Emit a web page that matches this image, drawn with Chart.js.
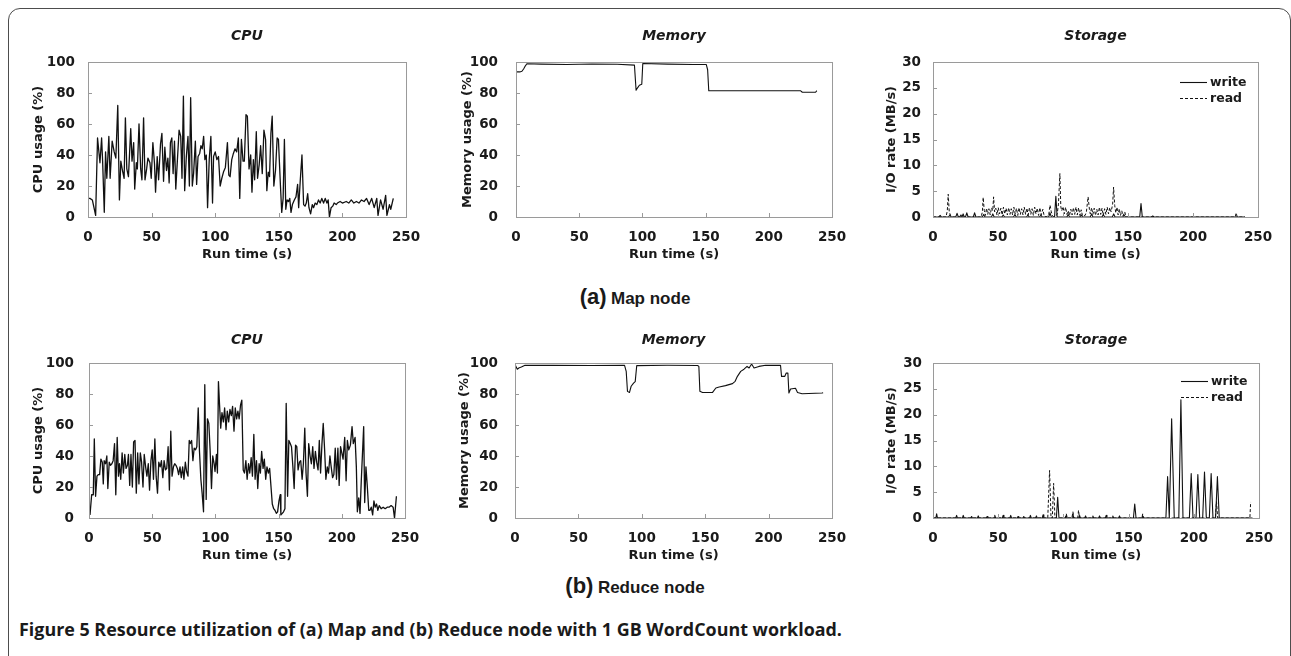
<!DOCTYPE html>
<html>
<head>
<meta charset="utf-8">
<script src="https://cdn.jsdelivr.net/npm/chart.js@4.4.1/dist/chart.umd.min.js"></script>
<style>
html, body { margin: 0; padding: 0; background: #fff; }
#page { position: relative; width: 1291px; height: 656px; overflow: hidden; }
#frame { position: absolute; left: 8px; top: 8px; width: 1283px; height: 720px; border: 1px solid #4d4d4d; border-radius: 12px; box-sizing: border-box; }
canvas { position: absolute; }
.sub { position: absolute; left: 0; width: 1270px; text-align: center; font-family: "Liberation Sans", Arial, sans-serif; font-weight: bold; color: #1a1a1a; white-space: nowrap; line-height: 24px; }
.sub .tag { font-size: 22px; }
.sub .name { font-size: 17px; }
#caption { position: absolute; left: 19px; top: 618px; font-family: "Open Sans", sans-serif; font-weight: 700; font-size: 17.9px; line-height: 22px; color: #1a1a1a; white-space: nowrap; }
</style>
</head>
<body>
<div id="page">
  <div id="frame"></div>
  <canvas id="mapCpu"></canvas>
  <canvas id="mapMem"></canvas>
  <canvas id="mapIO"></canvas>
  <canvas id="redCpu"></canvas>
  <canvas id="redMem"></canvas>
  <canvas id="redIO"></canvas>
  <div class="sub" style="top:285px"><span class="tag">(a)</span> <span class="name">Map node</span></div>
  <div class="sub" style="top:574px"><span class="tag">(b)</span> <span class="name">Reduce node</span></div>
  <div id="caption">Figure 5 Resource utilization of (a) Map and (b) Reduce node with 1 GB WordCount workload.</div>
</div>
<script>
// ---- data (run time in s) ----

// (a) map node, CPU usage (%)
const mapCpuTime = [0,1.5,3.4,4.2,6,7.5,9.4,10.7,11.5,12.8,
  13.8,14.8,16.4,17.4,19,20.6,21.9,23.4,24.7,25.8,
  27.1,28.4,29.4,30.5,31.8,33.6,34.6,35.9,36.7,38,
  38.8,40.1,41.4,42.4,43.7,44.8,46.1,47.1,48.7,49.7,
  51,52.3,53.1,54.4,55.5,57,58.1,59.4,60.4,61.7,
  62.8,63.8,64.8,65.9,66.9,68,69,70.3,71.6,72.9,
  73.9,75,76,77.3,78.6,79.7,80.7,82,83,84.4,
  85.4,86.5,87.8,88.8,89.8,90.9,91.9,93,94,95.3,
  96.6,97.9,98.7,100,101.3,102.6,103.9,105.2,106.5,108,
  109.6,110.7,111.7,113,114.3,115.6,116.9,118.2,119.3,120.6,
  121.9,122.9,124.2,125.3,126.6,127.9,128.9,130,131,132.3,
  133.3,134.6,135.7,137,138.3,139.6,140.6,141.7,142.7,143.8,
  144.8,146.1,147.4,148.7,149.7,151.3,152.3,153.4,154.4,155.5,
  156.5,157.6,158.6,159.6,160.7,162.2,163.5,164.8,165.6,166.9,
  168.2,169.5,170.6,171.6,172.7,173.7,175,176.3,177.3,178.6,
  179.9,181.2,182.5,183.8,185.2,186.5,187.8,188.8,189.8,191.1,
  192.4,193.5,195.1,196.1,198.2,200,203,205,207,209,
  211,213,215,217,219,221,223,225,227,228,
  230,232,234,235,237,238,240];
const mapCpuValue = [12,12,11,8,1,51,35,51,36,3,
  42,25,52,25,49,42,38,72,11,36,
  30,25,64,31,26,57,36,48,18,35,
  31,60,31,24,64,24,31,38,35,25,
  48,34,16,39,24,47,54,23,45,30,
  38,22,48,51,28,49,18,37,56,52,
  25,78,17,39,52,20,77,20,28,49,
  21,39,41,46,44,52,37,40,6,37,
  52,9,39,42,37,39,20,25,29,32,
  48,27,26,37,41,44,42,51,12,50,
  36,36,66,65,31,40,16,37,24,55,
  25,34,46,28,56,50,17,29,26,54,
  65,20,30,51,50,20,3,12,50,5,
  11,10,12,3,8,11,13,21,6,24,
  40,8,7,9,15,6,2,8,6,9,
  8,11,9,12,9,12,9,11,0,6,
  7,9,8,9,10,9,10,9,11,9,
  10,9,11,10,12,8,12,6,12,1,
  11,5,14,1,8,5,12];

// (a) map node, memory usage (%)
const mapMemTime = [0,3,4.7,6,7,8.6,20,40,60,80,93.7,95,96.3,97.6,99.5,100.3,120,140,150.5,151.6,152.5,180,200,225,226.5,237,238];
const mapMemValue = [93.6,93.6,94,95.5,97,98.9,98.6,98.4,98.7,98.5,98,81.8,83.5,85,85.6,99,98.6,98.4,98.4,95,81.5,81.5,81.5,81.5,80.5,80.5,81.5];

// (a) map node, I/O rate (MB/s)
const mapWriteTime = [0,4.5,5.5,6.5,12,13,14,17.5,18.5,19.5,
  20.5,21.5,22.3,23.2,24,25,26,27,31,32,
  33,38,39,40,45,46,47,53,54,55,
  62,63,64,72,73,74,82,83,84,89,
  90,91,93.5,94.5,95.5,103,104,105,113,114,
  115,121,122,123,130,131,132,138,139,140,
  146,147,148,159,160,161,168,169,170,240];
const mapWriteValue = [0,0,0.3,0,0,0.4,0,0,0.7,0,
  0,0.4,0,0.6,0,0,0.8,0,0,0.8,
  0,0,0.5,0,0,0.6,0,0,0.4,0,
  0,0.5,0,0,0.4,0,0,0.4,0,0,
  0.8,0,0,4.0,0,0,0.5,0,0,0.4,
  0,0,0.6,0,0,0.5,0,0,0.6,0,
  0,0.4,0,0,2.6,0,0,0.2,0,0];
const mapReadTime = [0,10,11,11.7,12.5,13.5,14.5,37,38,38.6,
  39.4,40.3,41.2,42.1,43,44,45,46,46.6,47.4,
  48.3,49.2,50.2,51.2,52.2,53.2,54.2,55.2,56.2,57.2,
  58.2,59.2,60.2,61.2,62.2,63.2,64.2,65.2,66.2,67.2,
  68.2,69.2,70.2,71.2,72.2,73.2,74.2,75.2,76.2,77.2,
  78.2,79.2,80.2,81.2,82.2,83.2,84.5,85.5,87,89,
  90,91,92,93,95.5,96.5,97.6,98.3,99,100,
  101,102,103,104,105,106,107,108,109,110,
  111,112,113,114,115,117,118,119.3,120.3,121,
  122,123,124,125,126,127,128,129,130,131,
  132,133,134,135,136,137,138.2,138.9,139.8,140.6,
  141.5,142.4,143.3,144.2,145.2,146.2,147.5,148.5,232.5,233.2,
  234,240];
const mapReadValue = [0,0,1.2,4.4,1,0.3,0,0,1,3.8,
  1.3,0.3,1.7,0.5,1.6,0.4,1.8,1.2,3.9,1,
  1.7,0.4,1.8,0.6,1.7,0.4,1.9,0.6,1.7,0.4,
  1.8,0.5,1.6,0.4,1.9,0.6,1.7,0.3,1.8,0.5,
  1.6,0.4,1.9,0.5,1.7,0.4,1.8,0.5,1.6,0.3,
  1.9,0.6,1.7,0.3,1.8,0.4,1.5,0.2,0,0.4,
  2.3,1,0.2,0,0.5,2.5,8.4,2,1.2,2,
  0.6,1.9,0.5,1.2,0.3,1.5,0.4,1.8,0.5,1.9,
  0.4,1.8,0.3,1.4,0.2,0.3,1,3.9,1.5,0.6,
  1.8,0.5,1.7,0.3,1.5,0.4,1.9,0.5,1.7,0.3,
  1.6,0.5,1.9,0.6,1.8,1,2.5,5.8,2.2,0.8,
  1.9,0.4,1.6,0.3,1.2,0.2,1,0,0,0.8,
  0,0];

// (b) reduce node, CPU usage (%)
const redCpuTime = [0.8,2.1,3.4,4.2,5.2,6.3,7.3,8.4,9.4,10.5,
  11.3,12,13.1,14.1,14.9,16,17,18.1,19.1,20.2,
  21.2,22.3,23.3,24.1,25.1,26.2,27.2,28.3,29.3,30.4,
  31.2,32.2,33.2,34.3,35.3,36.4,37.4,38.5,39.5,40.6,
  41.6,42.7,43.7,44.8,45.8,46.9,47.9,49,50,51,
  52.1,53.1,54.2,55.2,56.3,57.3,58.4,59.4,60.5,61.5,
  62.6,63.6,64.7,65.7,66.8,67.8,68.8,69.9,70.9,72,
  73,74.1,75.1,76.2,77.2,78.3,79.3,80.1,81.2,82.2,
  83.2,84.3,85.3,86.4,87.4,88.5,89.5,90.6,91.6,92.7,
  93.7,94.8,95.8,96.9,97.9,99,99.7,100.8,101.6,102.4,
  103.1,104.2,105.2,106.3,107.3,108.4,109.4,110.5,111.5,112.6,
  113.6,114.7,115.7,116.8,117.8,118.8,119.9,120.9,122,123,
  124.1,125.1,126.2,127.2,128.3,129.3,130.4,131.4,132.5,133.5,
  134.6,135.6,136.6,137.7,138.7,139.8,140.8,141.9,142.9,144,
  145,146.1,147.1,148.2,149.2,150.3,151.3,151.8,152.9,153.9,
  155,156,157.1,158.1,159.2,160.2,161.3,162.3,163.4,164.4,
  165.4,166.5,167.5,168.6,169.6,170.7,171.7,172.8,173.8,174.9,
  175.9,177,178,179.1,180.1,181.2,182.2,183.2,184.3,185.3,
  186.4,187.4,188.5,189.5,190.6,191.6,192.7,193.7,194.8,195.8,
  196.9,197.9,199,201,202.3,203.4,204.4,205.5,206.8,208.1,
  209.1,210.5,211.5,212.3,213.4,214.4,215.4,217.3,218.1,219.1,
  220.2,221.3,222.3,223.3,224.4,225.4,226.4,227.5,228.5,229.6,
  231.1,232.7,234.3,235.9,237.4,239,240.6,241.7,243.2];
const redCpuValue = [2,15,15,51,14,27,28,28,38,36,
  22,37,35,40,19,36,34,35,37,48,
  15,52,27,35,25,42,29,41,32,34,
  41,21,41,20,49,50,16,42,22,42,
  36,20,41,33,27,35,18,37,44,25,
  51,27,16,36,33,37,26,37,31,32,
  46,18,56,27,33,35,34,32,28,33,
  26,33,25,36,30,27,50,48,50,37,
  45,44,46,71,43,25,16,4,86,12,
  64,61,44,19,40,35,30,41,29,88,
  76,58,68,62,71,57,69,62,70,66,
  72,56,71,64,69,64,73,76,31,29,
  37,25,35,29,39,27,54,25,37,19,
  35,29,43,32,38,25,33,29,32,20,
  9,6,5,3,4,11,15,2,3,4,
  6,74,14,50,48,46,33,19,47,46,
  31,36,37,25,35,58,29,14,48,40,
  35,46,32,43,36,31,50,29,48,61,
  44,25,33,29,40,33,26,28,45,25,
  45,21,46,38,52,24,50,44,47,59,
  48,52,33,4,13,3,24,59,10,33,
  20,5,5,7,2,11,7,9,5,8,
  6,7,6,7,7,8,7,0,14];

// (b) reduce node, memory usage (%)
const redMemTime = [0,1.8,3,5,7.9,30,60,86.4,87.7,88.7,
  90.3,91.6,93.5,94.8,96,120,144,145,145.8,147.9,
  155.8,158.4,161,166,171.5,173.6,175.4,178,180.6,183,
  184.6,186.6,188.5,192.4,197.6,209.4,210.2,212.8,213.9,215.2,
  216,217.3,221.2,222.8,226.4,242.1,243];
const redMemValue = [99,96,96.8,97.4,98.5,98.5,98.4,98.5,94.6,81.7,
  81,85,87,88,98.3,98.5,98.4,97.8,81.7,81,
  81,83.9,84.5,85.4,86.7,88.2,91.4,94.6,96,97.8,
  96.8,99.4,96.8,97.8,98.5,98.5,91.4,91.4,93.5,93.5,
  80.6,83.2,83.7,81,80.2,80.6,80.8];

// (b) reduce node, I/O rate (MB/s)
const redWriteTime = [0,2.2,2.8,3.4,17.5,18.1,18.7,22.6,23.2,23.8,
  29,29.6,30.2,34.1,34.7,35.3,40.9,41.5,42.1,46.8,
  47.4,48,53.2,53.8,54.4,59,59.6,60.2,64.6,65.2,
  65.8,69,69.6,70.2,74.1,74.7,75.3,78.7,79.3,79.9,
  83.8,84.4,85,94.6,95.6,96.6,101.6,102.2,102.8,106.7,
  107.3,107.9,111.8,112.4,113,116.4,117,117.6,122,122.6,
  123.2,127.1,127.7,128.3,132.2,132.8,133.4,137.3,137.9,138.5,
  142.4,143,143.6,153.7,154.7,155.7,160.2,160.8,161.4,178.6,
  179.9,181.2,183,185,188.5,190.1,191.7,196.6,198,199.4,
  201.7,203.1,204.5,206.8,208.2,209.6,211.9,213.3,214.7,216.7,
  218.1,219.5,245];
const redWriteValue = [0,0,0.8,0,0,0.5,0,0,0.5,0,
  0,0.3,0,0,0.4,0,0,0.3,0,0,
  0.5,0,0,0.5,0,0,0.5,0,0,0.3,
  0,0,0.3,0,0,0.5,0,0,0.4,0,
  0,0.6,0,0,4.0,0,0,0.5,0,0,
  0.8,0,0,0.5,0,0,0.4,0,0,0.4,
  0,0,0.4,0,0,0.5,0,0,0.4,0,
  0,0.4,0,0,2.7,0,0,0.4,0,0,
  8.0,0,19.2,0,0,22.9,0,0,8.6,0,
  0,8.4,0,0,8.9,0,0,8.6,0,0,
  8.0,0,0];
const redReadTime = [0,88,89.4,90.5,91.5,92.5,93.5,101.5,102.2,103,
  106.5,107.3,108,111,111.6,112.3,160.2,160.8,161.4,216.5,
  217.4,218.3,243,243.6];
const redReadValue = [0,0,9.2,0,0,6.7,0,0,0.8,0,
  0,1.2,0,0,1.5,0,0,0.8,0,0,
  3.2,0,0,3.1];

const panelTitles = ['CPU', 'Memory', 'Storage'];
const yTitles = ['CPU usage (%)', 'Memory usage (%)', 'I/O rate (MB/s)'];
const xTitle = 'Run time (s)';
const seriesNames = ['write', 'read'];

// ---- drawing ----
const FONT = '"DejaVu Sans", sans-serif';
const INK = '#1a1a1a';
const TICK_SIZE = 13.5;
const AXIS_TITLE_SIZE = 13;
const PANEL_TITLE_SIZE = 14;

function points(ts, vs) {
  return ts.map((t, i) => ({x: t, y: vs[i]}));
}

// box around the plot area, short tick marks pointing inwards
const framePlugin = {
  id: 'frame',
  afterDatasetsDraw(chart) {
    const {ctx, chartArea: a, scales: {x, y}} = chart;
    ctx.save();
    ctx.strokeStyle = '#9a9a9a';
    ctx.lineWidth = 1;
    ctx.strokeRect(a.left + 0.5, a.top + 0.5, a.right - a.left, a.bottom - a.top);
    ctx.beginPath();
    x.ticks.forEach(t => {
      const px = Math.round(x.getPixelForValue(t.value)) + 0.5;
      ctx.moveTo(px, a.bottom); ctx.lineTo(px, a.bottom - 4);
    });
    y.ticks.forEach(t => {
      const py = Math.round(y.getPixelForValue(t.value)) + 0.5;
      ctx.moveTo(a.left, py); ctx.lineTo(a.left + 4, py);
    });
    ctx.stroke();
    ctx.restore();
  }
};

// small legend in the upper right corner of the plot
const cornerLegend = {
  id: 'cornerLegend',
  afterDraw(chart, args, opts) {
    if (!opts.show) return;
    const {ctx, chartArea: a} = chart;
    ctx.save();
    ctx.font = 'bold 12.5px ' + FONT;
    ctx.fillStyle = INK;
    ctx.textBaseline = 'middle';
    chart.data.datasets.forEach((ds, i) => {
      const yy = Math.round(a.top + opts.top + i * 16) + 0.5;
      ctx.beginPath();
      ctx.setLineDash(ds.borderDash || []);
      ctx.strokeStyle = ds.borderColor;
      ctx.lineWidth = ds.borderWidth;
      ctx.moveTo(a.right - 78, yy);
      ctx.lineTo(a.right - 51, yy);
      ctx.stroke();
      ctx.setLineDash([]);
      ctx.fillText(ds.label, a.right - 48, yy);
    });
    ctx.restore();
  }
};

// plot rectangles of the six panels
const panels = {
  mapCpu: {L: 88, R: 408, T: 62, B: 217, yTitleX: 38.3, tickPad: 13, titleY: 36},
  mapMem: {L: 516, R: 834, T: 62, B: 217, yTitleX: 468, tickPad: 18, titleY: 36},
  mapIO:  {L: 933, R: 1260, T: 62, B: 217, yTitleX: 891.7, tickPad: 12, titleY: 36},
  redCpu: {L: 89, R: 407, T: 363, B: 518, yTitleX: 38.3, tickPad: 15, titleY: 340},
  redMem: {L: 515, R: 834, T: 363, B: 518, yTitleX: 465, tickPad: 17, titleY: 340},
  redIO:  {L: 933, R: 1261, T: 363, B: 518, yTitleX: 891.7, tickPad: 11, titleY: 340}
};

function build(id, spec) {
  const p = panels[id];
  const canvas = document.getElementById(id);
  const yHalf = AXIS_TITLE_SIZE * 1.2 / 2;
  const tHalf = PANEL_TITLE_SIZE * 1.2 / 2;
  const left = Math.floor(p.yTitleX - yHalf);
  const top = Math.floor(p.titleY - tHalf);
  const yPad = p.yTitleX - yHalf - left;
  const tPad = p.titleY - tHalf - top;
  const width = p.R - left + 24;
  const height = p.B - top + 46;
  canvas.width = width;
  canvas.height = height;
  canvas.style.left = left + 'px';
  canvas.style.top = top + 'px';

  const tickFont = {family: FONT, size: TICK_SIZE, weight: 'bold', lineHeight: 1.2};
  const titleFont = {family: FONT, size: AXIS_TITLE_SIZE, weight: 'bold', lineHeight: 1.2};

  new Chart(canvas, {
    type: 'line',
    data: {datasets: spec.datasets},
    options: {
      responsive: false,
      animation: false,
      events: [],
      layout: {padding: {left: 0, top: 0, bottom: 0, right: 24}},
      elements: {point: {radius: 0}, line: {tension: 0, borderJoinStyle: 'round'}},
      plugins: {
        legend: {display: false},
        tooltip: {enabled: false},
        title: {
          display: true, text: spec.title, fullSize: false, color: INK,
          font: {family: FONT, size: PANEL_TITLE_SIZE, weight: 'bold', style: 'italic', lineHeight: 1.2},
          padding: {top: tPad, bottom: p.T - top - tPad - 2 * tHalf}
        },
        cornerLegend: {show: !!spec.legend, top: spec.legendTop || 20}
      },
      scales: {
        x: {
          type: 'linear', min: 0, max: 250,
          grid: {display: false, drawTicks: false}, border: {display: false},
          ticks: {stepSize: 50, padding: 20 - TICK_SIZE * 0.6, font: tickFont, color: INK, maxRotation: 0, autoSkip: false},
          title: {display: true, text: xTitle, color: INK, font: titleFont, padding: {top: 0, bottom: 46 - 38 - yHalf}},
          afterFit: sc => { sc.height = 46; }
        },
        y: {
          type: 'linear', min: 0, max: spec.yMax,
          grid: {display: false, drawTicks: false}, border: {display: false},
          ticks: {stepSize: spec.yStep, padding: p.tickPad, font: tickFont, color: INK},
          title: {display: true, text: spec.yTitle, color: INK, font: titleFont, padding: {top: yPad, bottom: 0}},
          afterFit: sc => { sc.width = p.L - left; }
        }
      }
    },
    plugins: [framePlugin, cornerLegend]
  });
}

function lineSet(ts, vs, width, label, dash) {
  return {
    label: label || '',
    data: points(ts, vs),
    borderColor: '#111',
    borderWidth: width,
    borderDash: dash || [],
    fill: false
  };
}

build('mapCpu', {title: panelTitles[0], yTitle: yTitles[0], yMax: 100, yStep: 20,
  datasets: [lineSet(mapCpuTime, mapCpuValue, 1.3)]});
build('mapMem', {title: panelTitles[1], yTitle: yTitles[1], yMax: 100, yStep: 20,
  datasets: [lineSet(mapMemTime, mapMemValue, 1.1)]});
build('mapIO', {title: panelTitles[2], yTitle: yTitles[2], yMax: 30, yStep: 5, legend: true, legendTop: 20,
  datasets: [lineSet(mapWriteTime, mapWriteValue, 1.1, seriesNames[0]),
             lineSet(mapReadTime, mapReadValue, 1, seriesNames[1], [3, 2])]});
build('redCpu', {title: panelTitles[0], yTitle: yTitles[0], yMax: 100, yStep: 20,
  datasets: [lineSet(redCpuTime, redCpuValue, 1.3)]});
build('redMem', {title: panelTitles[1], yTitle: yTitles[1], yMax: 100, yStep: 20,
  datasets: [lineSet(redMemTime, redMemValue, 1.1)]});
build('redIO', {title: panelTitles[2], yTitle: yTitles[2], yMax: 30, yStep: 5, legend: true, legendTop: 18,
  datasets: [lineSet(redWriteTime, redWriteValue, 1.1, seriesNames[0]),
             lineSet(redReadTime, redReadValue, 1, seriesNames[1], [3, 2])]});
</script>
</body>
</html>
